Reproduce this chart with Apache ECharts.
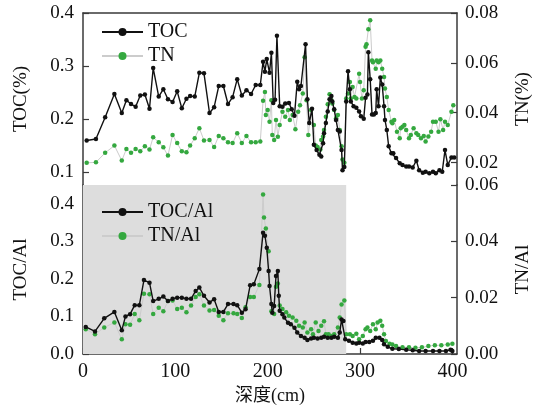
<!DOCTYPE html>
<html>
<head>
<meta charset="utf-8">
<title>TOC / TN</title>
<script src="https://cdn.jsdelivr.net/npm/echarts@6/dist/echarts.min.js"></script>
<style>
  html, body { margin: 0; padding: 0; background: #fff; }
  #chart { width: 541px; height: 412px; }
</style>
</head>
<body>
<div id="chart"></div>
<script>
// 上图：TOC(%) 与 TN(%) 随深度
const tocDepth = [4, 14, 24, 34, 42, 47, 52, 57, 62, 67, 72, 76, 82, 87, 92, 97, 102, 107, 112, 116, 121, 126, 131, 137, 142, 147, 152, 157, 162, 167, 172, 177, 182, 187, 192,
  195, 197, 199, 202, 204, 206, 208, 210, 213, 216, 219, 223, 226, 229, 232, 234, 236, 241, 243, 245, 248, 250, 253, 256, 258, 260, 261, 263, 265, 267, 269, 270, 272, 274, 276, 278, 280, 281, 283,
  285, 287, 289, 290, 293, 296, 299, 301, 304, 306, 308, 309, 311, 313, 315, 317, 318, 320, 322, 324, 326, 327, 329, 331, 334, 336, 339, 343, 346, 350, 353, 357, 361, 364, 368, 371, 375, 379, 382, 386, 389, 392, 395, 399, 402]
const tocVal = [0.159, 0.162, 0.203, 0.247, 0.211, 0.235, 0.228, 0.223, 0.244, 0.246, 0.219, 0.296, 0.242, 0.256, 0.237, 0.232, 0.252, 0.220, 0.238, 0.243, 0.242, 0.287, 0.286, 0.211, 0.222, 0.262, 0.262, 0.228, 0.241, 0.275, 0.244, 0.254, 0.247, 0.264, 0.264,
  0.308, 0.289, 0.313, 0.287, 0.325, 0.230, 0.236, 0.357, 0.224, 0.223, 0.229, 0.230, 0.218, 0.206, 0.270, 0.256, 0.262, 0.341, 0.237, 0.192, 0.219, 0.151, 0.141, 0.132, 0.129, 0.154, 0.173, 0.192, 0.214, 0.237, 0.243, 0.233, 0.218, 0.198, 0.179, 0.176, 0.141, 0.103, 0.109,
  0.233, 0.290, 0.256, 0.233, 0.224, 0.221, 0.214, 0.205, 0.200, 0.240, 0.246, 0.326, 0.275, 0.208, 0.208, 0.211, 0.256, 0.224, 0.278, 0.265, 0.224, 0.198, 0.179, 0.148, 0.135, 0.135, 0.126, 0.116, 0.113, 0.110, 0.110, 0.108, 0.121, 0.103, 0.098, 0.100, 0.097, 0.100, 0.097, 0.103, 0.100, 0.141, 0.113, 0.127, 0.127]

const tnDepth = [4, 14, 24, 34, 42, 47, 52, 57, 62, 67, 72, 76, 82, 87, 92, 97, 102, 107, 112, 116, 121, 126, 131, 137, 142, 147, 152, 157, 162, 167, 172, 177, 182, 187, 192,
  195, 197, 198, 200, 202, 204, 205, 207, 209, 211, 213, 216, 219, 222, 224, 227, 230, 233, 235, 238, 240, 242, 244, 247, 250, 252, 254, 257, 258, 260, 261, 263, 265, 267, 269, 270, 272, 274, 276, 278, 280, 281, 283,
  285, 287, 289, 290, 292, 294, 296, 299, 300, 302, 304, 306, 307, 309, 311, 313, 314, 317, 318, 320, 322, 324, 326, 327, 329, 331, 334, 335, 337, 340, 343, 344, 346, 348, 350, 353, 355, 358, 361, 363, 366, 369, 371, 374, 377, 379, 382, 385, 387, 390, 392, 395, 399, 401]
const tnVal = [0.0199, 0.0201, 0.0239, 0.0268, 0.0208, 0.0254, 0.0239, 0.0254, 0.0245, 0.0265, 0.0252, 0.0302, 0.0281, 0.0261, 0.0228, 0.0311, 0.0278, 0.0245, 0.0241, 0.0268, 0.0298, 0.0338, 0.0289, 0.0291, 0.0262, 0.0307, 0.0298, 0.0281, 0.0278, 0.0318, 0.0278, 0.0307, 0.0281, 0.0281, 0.0285,
  0.0448, 0.0483, 0.0391, 0.0411, 0.0364, 0.0450, 0.0311, 0.0291, 0.0371, 0.0304, 0.0351, 0.0404, 0.0384, 0.0411, 0.0371, 0.0391, 0.0334, 0.0404, 0.0430, 0.0477, 0.0622, 0.0450, 0.0311, 0.0411, 0.0351, 0.0268, 0.0262, 0.0252, 0.0291, 0.0305, 0.0331, 0.0384, 0.0434, 0.0474, 0.0450, 0.0437, 0.0411, 0.0378, 0.0391, 0.0331, 0.0265, 0.0212, 0.0199,
  0.0457, 0.0477, 0.0523, 0.0457, 0.0503, 0.0463, 0.0457, 0.0556, 0.0523, 0.0457, 0.0490, 0.0665, 0.0675, 0.0735, 0.0771, 0.0609, 0.0602, 0.0576, 0.0609, 0.0602, 0.0609, 0.0576, 0.0543, 0.0497, 0.0463, 0.0411, 0.0364, 0.0358, 0.0371, 0.0324, 0.0298, 0.0338, 0.0344, 0.0351, 0.0331, 0.0298, 0.0311, 0.0338, 0.0318, 0.0311, 0.0298, 0.0307, 0.0285, 0.0305, 0.0324, 0.0364, 0.0364, 0.0324, 0.0374, 0.0331, 0.0364, 0.0351, 0.0404, 0.0430]

// 下图：TOC/Al 与 TN/Al
const tocAlDepth = [3, 13, 23, 34, 42, 46, 51, 56, 61, 66, 72, 76, 82, 87, 92, 97, 102, 107, 112, 117, 122, 126, 131, 137, 142, 147, 152, 157, 163, 167, 172, 176, 181, 185, 191,
  195, 197, 199, 201, 202, 204, 205, 207, 209, 211, 212, 213, 216, 218, 222, 225, 229, 232, 236, 240, 243, 247, 250, 254, 258, 261, 265, 269, 272, 276, 278, 280, 282, 284,
  288, 292, 296, 299, 303, 306, 310, 314, 317, 321, 324, 326, 330, 335, 342, 350, 357, 364, 371, 379, 386, 393, 398, 400]
const tocAlVal = [0.072, 0.060, 0.095, 0.112, 0.063, 0.100, 0.106, 0.130, 0.130, 0.197, 0.190, 0.141, 0.147, 0.153, 0.141, 0.147, 0.150, 0.150, 0.147, 0.147, 0.168, 0.177, 0.155, 0.137, 0.146, 0.112, 0.112, 0.133, 0.133, 0.130, 0.110, 0.119, 0.183, 0.186, 0.226,
  0.323, 0.315, 0.283, 0.221, 0.181, 0.133, 0.110, 0.128, 0.208, 0.221, 0.155, 0.115, 0.106, 0.097, 0.083, 0.079, 0.070, 0.057, 0.048, 0.043, 0.037, 0.041, 0.043, 0.041, 0.043, 0.046, 0.043, 0.043, 0.046, 0.043, 0.057, 0.092, 0.088, 0.039,
  0.035, 0.030, 0.028, 0.030, 0.028, 0.032, 0.032, 0.035, 0.043, 0.043, 0.037, 0.026, 0.019, 0.014, 0.013, 0.011, 0.010, 0.008, 0.008, 0.008, 0.008, 0.008, 0.011, 0.008]

const tnAlDepth = [3, 13, 23, 34, 42, 46, 51, 56, 61, 66, 72, 76, 82, 87, 92, 97, 102, 107, 112, 117, 122, 126, 131, 137, 142, 147, 152, 157, 163, 167, 172, 176, 181, 185, 191,
  195, 196, 198, 201, 204, 207, 209, 211, 213, 216, 220, 223, 227, 231, 234, 238, 240, 243, 247, 249, 252, 255, 258, 261, 263, 266, 269, 272, 276, 278, 280, 283,
  285, 289, 292, 296, 299, 303, 306, 308, 311, 314, 317, 319, 322, 324, 326, 328, 332, 335, 339, 346, 353, 360, 367, 374, 381, 388, 395, 400]
const tnAlVal = [0.0088, 0.0070, 0.0094, 0.0112, 0.0052, 0.0106, 0.0104, 0.0142, 0.0120, 0.0214, 0.0212, 0.0142, 0.0164, 0.0152, 0.0188, 0.0190, 0.0160, 0.0164, 0.0148, 0.0172, 0.0202, 0.0212, 0.0172, 0.0154, 0.0156, 0.0136, 0.0120, 0.0145, 0.0145, 0.0142, 0.0128, 0.0166, 0.0202, 0.0202, 0.0245,
  0.0566, 0.0485, 0.0446, 0.0365, 0.0152, 0.0142, 0.0239, 0.0250, 0.0172, 0.0160, 0.0148, 0.0136, 0.0130, 0.0118, 0.0100, 0.0094, 0.0112, 0.0076, 0.0088, 0.0070, 0.0112, 0.0082, 0.0100, 0.0116, 0.0070, 0.0070, 0.0064, 0.0070, 0.0094, 0.0130, 0.0176, 0.0190,
  0.0070, 0.0070, 0.0064, 0.0072, 0.0052, 0.0064, 0.0088, 0.0094, 0.0082, 0.0106, 0.0088, 0.0112, 0.0118, 0.0100, 0.0070, 0.0046, 0.0036, 0.0034, 0.0028, 0.0024, 0.0024, 0.0022, 0.0024, 0.0028, 0.0031, 0.0031, 0.0034, 0.0036]

// 灰色阴影区间 (cm)
const shadedDepth = [0, 285]

// 刻度
const depthTicks = [0, 100, 200, 300, 400]
const tocTicks = [0.1, 0.2, 0.3, 0.4]
const tnTicks = [0.02, 0.04, 0.06, 0.08]
const tocAlTicks = [0, 0.1, 0.2, 0.3, 0.4]
const tnAlTicks = [0, 0.02, 0.04, 0.06]

const pairs = (xs, ys) => xs.map((x, i) => [x, ys[i]])

const FONT = "'Liberation Serif', 'Noto Sans CJK SC', serif"
const AXIS_COLOR = '#3a3a3a'
const GREEN = '#34a83f'

function yAxis (gridIndex, pos, min, max, ticks, digits, name) {
  return {
    type: 'value',
    gridIndex: gridIndex,
    position: pos,
    min: min,
    max: max,
    name: name,
    nameLocation: 'middle',
    nameRotate: 90,
    nameGap: pos === 'left' ? 52 : 57,
    nameTextStyle: { fontFamily: FONT, fontSize: 19, color: '#111' },
    axisLine: { show: true, onZero: false, lineStyle: { color: AXIS_COLOR, width: 1.5 } },
    axisTick: { show: true, inside: true, length: 6, customValues: ticks, lineStyle: { color: AXIS_COLOR, width: 1.2 } },
    axisLabel: {
      customValues: ticks,
      margin: pos === 'left' ? 9 : 8,
      fontFamily: FONT,
      fontSize: 19,
      color: '#111',
      formatter: v => Number(v).toFixed(digits)
    },
    splitLine: { show: false }
  }
}

const option = {
  backgroundColor: '#fff',
  animation: false,
  grid: [
    { left: 83, right: 84, top: 13, height: 172 },
    { left: 83, right: 84, top: 185, height: 169 }
  ],
  legend: [
    {
      data: ['TOC', 'TN'],
      orient: 'vertical',
      left: 96,
      top: 17,
      itemWidth: 41,
      itemHeight: 10,
      itemGap: 4,
      textStyle: { fontFamily: FONT, fontSize: 20, color: '#111' }
    },
    {
      data: ['TOC/Al', 'TN/Al'],
      orient: 'vertical',
      left: 96,
      top: 197,
      itemWidth: 41,
      itemHeight: 10,
      itemGap: 4,
      textStyle: { fontFamily: FONT, fontSize: 20, color: '#111' }
    }
  ],
  xAxis: [
    {
      // 上图顶边框
      type: 'value',
      gridIndex: 0,
      position: 'top',
      min: 0,
      max: 405,
      axisLine: { show: true, onZero: false, lineStyle: { color: AXIS_COLOR, width: 1.5 } },
      axisTick: { show: false },
      axisLabel: { show: false },
      splitLine: { show: false }
    },
    {
      type: 'value',
      gridIndex: 1,
      position: 'bottom',
      min: 0,
      max: 405,
      name: '深度(cm)',
      nameLocation: 'middle',
      nameGap: 33,
      nameTextStyle: { fontFamily: FONT, fontSize: 18, color: '#111' },
      axisLine: { show: true, onZero: false, lineStyle: { color: AXIS_COLOR, width: 1.5 } },
      axisTick: { show: true, inside: true, length: 6, customValues: depthTicks, lineStyle: { color: AXIS_COLOR, width: 1.2 } },
      axisLabel: { customValues: depthTicks, margin: 8, fontFamily: FONT, fontSize: 20, color: '#111' },
      splitLine: { show: false }
    }
  ],
  yAxis: [
    yAxis(0, 'left', 0.075, 0.4, tocTicks, 1, 'TOC(%)'),
    yAxis(0, 'right', 0.011, 0.08, tnTicks, 2, 'TN(%)'),
    yAxis(1, 'left', 0, 0.45, tocAlTicks, 1, 'TOC/Al'),
    yAxis(1, 'right', 0, 0.06, tnAlTicks, 2, 'TN/Al')
  ],
  series: [
    {
      // 灰色背景区域
      name: 'shade',
      type: 'line',
      xAxisIndex: 1,
      yAxisIndex: 2,
      data: [],
      z: 0,
      markArea: {
        silent: true,
        itemStyle: { color: '#dddddd' },
        data: [[{ xAxis: shadedDepth[0] }, { xAxis: shadedDepth[1] }]]
      }
    },
    {
      name: 'TN',
      type: 'line',
      xAxisIndex: 0,
      yAxisIndex: 1,
      data: pairs(tnDepth, tnVal),
      symbol: 'circle',
      symbolSize: 4.5,
      itemStyle: { color: GREEN },
      lineStyle: { color: '#cccccc', width: 1 },
      z: 2
    },
    {
      name: 'TOC',
      type: 'line',
      xAxisIndex: 0,
      yAxisIndex: 0,
      data: pairs(tocDepth, tocVal),
      symbol: 'circle',
      symbolSize: 4.5,
      itemStyle: { color: '#111' },
      lineStyle: { color: '#111', width: 1.4 },
      z: 3
    },
    {
      name: 'TN/Al',
      type: 'line',
      xAxisIndex: 1,
      yAxisIndex: 3,
      data: pairs(tnAlDepth, tnAlVal),
      symbol: 'circle',
      symbolSize: 4.5,
      itemStyle: { color: GREEN },
      lineStyle: { color: '#cccccc', width: 1 },
      z: 2
    },
    {
      name: 'TOC/Al',
      type: 'line',
      xAxisIndex: 1,
      yAxisIndex: 2,
      data: pairs(tocAlDepth, tocAlVal),
      symbol: 'circle',
      symbolSize: 4.5,
      itemStyle: { color: '#111' },
      lineStyle: { color: '#111', width: 1.4 },
      z: 3
    }
  ]
}

echarts.init(document.getElementById('chart'), null, { renderer: 'canvas' }).setOption(option)
</script>
</body>
</html>
